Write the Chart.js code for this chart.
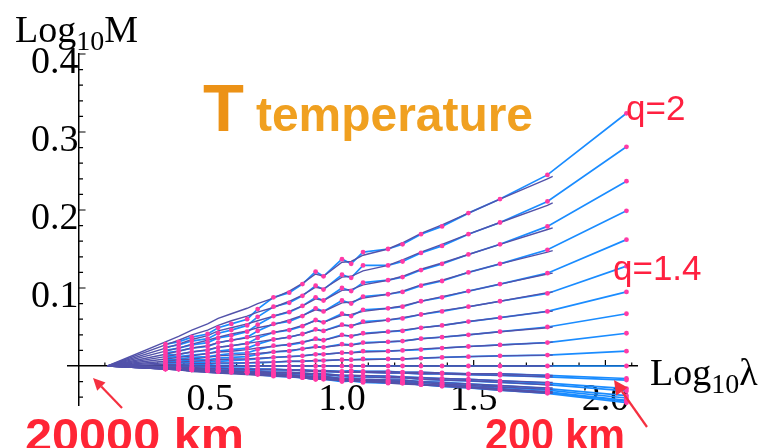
<!DOCTYPE html>
<html><head><meta charset="utf-8">
<script src="https://cdn.jsdelivr.net/npm/chart.js@4.4.1/dist/chart.umd.min.js"></script>
<style>
html,body{margin:0;padding:0;background:#fff;}
#wrap{position:relative;width:765px;height:448px;overflow:hidden;}
#c{position:absolute;left:0;top:0;}
#ov{position:absolute;left:0;top:0;pointer-events:none;}
</style></head><body>
<div id="wrap">
<canvas id="c" width="765" height="448"></canvas>
<svg id="ov" width="765" height="448" xmlns="http://www.w3.org/2000/svg">
  <text x="15" y="42" font-family="Liberation Serif, serif" font-size="38" fill="#000">Log<tspan font-size="28" dy="8">10</tspan><tspan dy="-8">M</tspan></text>
  <text x="650" y="385" font-family="Liberation Serif, serif" font-size="38" fill="#000">Log<tspan font-size="28" dy="8">10</tspan><tspan dy="-8">λ</tspan></text>
  <text x="203" y="131" font-family="Liberation Sans, Arial, sans-serif" font-weight="bold" font-size="67" fill="#ec9216">T</text>
  <text x="256" y="131" font-family="Liberation Sans, Arial, sans-serif" font-weight="bold" font-size="48" fill="#f0a020" textLength="277" lengthAdjust="spacingAndGlyphs">temperature</text>
  <text x="626" y="120" font-family="Liberation Sans, Arial, sans-serif" font-size="35" fill="#ff2040">q=2</text>
  <text x="613" y="280" font-family="Liberation Sans, Arial, sans-serif" font-size="35" fill="#ff2040">q=1.4</text>
  <text x="25" y="451" font-family="Liberation Sans, Arial, sans-serif" font-weight="bold" font-size="46" fill="#ff2535" textLength="219" lengthAdjust="spacingAndGlyphs">20000 km</text>
  <text x="485" y="450" font-family="Liberation Sans, Arial, sans-serif" font-weight="bold" font-size="44" fill="#ff2535" textLength="140" lengthAdjust="spacingAndGlyphs">200 km</text>
  <line x1="122" y1="408" x2="101.3" y2="386.6" stroke="#f53040" stroke-width="2.2"/>
  <polygon points="93,378 105.5,382.5 97.2,390.8" fill="#f53040"/>
  <line x1="647" y1="427" x2="622" y2="391.5" stroke="#f53040" stroke-width="2.2"/>
  <polygon points="614,380 627.7,387.5 616.2,395.5" fill="#f53040"/>
</svg>
</div>
<script>
// Log10 lambda of the measured points (blue curves, magenta dots)
const logLambda = [0.33,0.38,0.43,0.49,0.53,0.58,0.64,0.68,0.74,0.80,0.85,0.90,0.93,1.00,1.035,1.08,1.175,1.23,1.30,1.38,1.48,1.60,1.78,2.08];
// Log10 lambda of the fitted curves (purple)
const fitLogLambda = [0.11,0.33,0.38,0.43,0.49,0.53,0.58,0.64,0.68,0.74,0.80,0.85,0.90,0.93,1.00,1.035,1.08,1.175,1.23,1.30,1.38,1.48,1.60,1.78,1.80];
const qValues = [2.0,1.9,1.8,1.7,1.6,1.5,1.4,1.3,1.2,1.1,1.0,0.9,0.8,0.7,0.6,0.5,0.4,0.3,0.2,0.1];

// measured Log10 M, one array per q
const obsQ20 = [0.028,0.031,0.037,0.041,0.049,0.054,0.060,0.073,0.088,0.094,0.105,0.121,0.115,0.137,0.131,0.146,0.150,0.156,0.169,0.179,0.196,0.214,0.245,0.324];
const obsQ19 = [0.024,0.027,0.032,0.035,0.042,0.046,0.052,0.063,0.076,0.081,0.090,0.103,0.098,0.117,0.113,0.129,0.129,0.134,0.145,0.154,0.169,0.184,0.211,0.281];
const obsQ18 = [0.020,0.023,0.027,0.030,0.036,0.039,0.044,0.053,0.064,0.069,0.077,0.088,0.084,0.100,0.096,0.107,0.110,0.114,0.123,0.131,0.143,0.156,0.179,0.237];
const obsQ17 = [0.017,0.019,0.023,0.025,0.030,0.033,0.037,0.045,0.054,0.057,0.064,0.074,0.070,0.084,0.080,0.089,0.092,0.095,0.103,0.109,0.120,0.131,0.149,0.199];
const obsQ16 = [0.014,0.015,0.018,0.020,0.024,0.026,0.029,0.036,0.043,0.046,0.051,0.059,0.056,0.067,0.064,0.072,0.074,0.076,0.083,0.088,0.096,0.105,0.119,0.162];
const obsQ15 = [0.011,0.012,0.014,0.016,0.019,0.021,0.023,0.028,0.034,0.037,0.041,0.047,0.045,0.053,0.051,0.057,0.059,0.061,0.066,0.070,0.076,0.083,0.093,0.128];
const obsQ14 = [0.008,0.009,0.011,0.012,0.014,0.016,0.017,0.021,0.026,0.027,0.030,0.035,0.033,0.040,0.038,0.042,0.044,0.045,0.049,0.052,0.057,0.062,0.070,0.095];
const obsQ13 = [0.006,0.006,0.008,0.008,0.010,0.011,0.012,0.015,0.018,0.019,0.022,0.025,0.024,0.028,0.027,0.030,0.031,0.032,0.035,0.037,0.040,0.044,0.050,0.067];
const obsQ12 = [0.004,0.004,0.005,0.005,0.006,0.007,0.008,0.009,0.011,0.012,0.013,0.015,0.015,0.017,0.017,0.019,0.019,0.020,0.021,0.023,0.025,0.027,0.030,0.042];
const obsQ11 = [0.002,0.002,0.002,0.002,0.003,0.003,0.004,0.004,0.005,0.006,0.006,0.007,0.007,0.008,0.008,0.009,0.009,0.009,0.010,0.011,0.012,0.013,0.014,0.019];
const obsQ10 = [0,0,0,0,0,0,0,0,0,0,0,0,0,0,0,0,0,0,0,0,0,0,0,0];
const obsQ09 = [-0.001,-0.002,-0.002,-0.002,-0.002,-0.003,-0.003,-0.004,-0.004,-0.005,-0.005,-0.006,-0.006,-0.007,-0.006,-0.007,-0.007,-0.008,-0.008,-0.009,-0.010,-0.010,-0.012,-0.016];
const obsQ08 = [-0.002,-0.003,-0.003,-0.004,-0.004,-0.005,-0.005,-0.006,-0.008,-0.008,-0.009,-0.011,-0.010,-0.012,-0.012,-0.013,-0.013,-0.014,-0.015,-0.016,-0.017,-0.019,-0.022,-0.029];
const obsQ07 = [-0.003,-0.004,-0.004,-0.005,-0.006,-0.006,-0.007,-0.009,-0.010,-0.011,-0.012,-0.014,-0.013,-0.016,-0.015,-0.017,-0.018,-0.018,-0.020,-0.021,-0.023,-0.025,-0.029,-0.038];
const obsQ06 = [-0.004,-0.004,-0.005,-0.006,-0.007,-0.007,-0.008,-0.010,-0.012,-0.013,-0.014,-0.016,-0.016,-0.019,-0.018,-0.020,-0.020,-0.021,-0.023,-0.024,-0.027,-0.029,-0.033,-0.044];
const obsQ05 = [-0.004,-0.004,-0.005,-0.006,-0.007,-0.008,-0.009,-0.011,-0.013,-0.014,-0.015,-0.017,-0.017,-0.020,-0.019,-0.021,-0.022,-0.022,-0.024,-0.026,-0.028,-0.031,-0.035,-0.047];
const obsQ04 = [-0.004,-0.004,-0.005,-0.006,-0.007,-0.008,-0.008,-0.010,-0.012,-0.013,-0.015,-0.017,-0.016,-0.019,-0.018,-0.020,-0.021,-0.022,-0.024,-0.025,-0.027,-0.030,-0.034,-0.045];
const obsQ03 = [-0.004,-0.004,-0.005,-0.005,-0.006,-0.007,-0.008,-0.009,-0.011,-0.012,-0.013,-0.015,-0.014,-0.017,-0.016,-0.018,-0.019,-0.020,-0.021,-0.022,-0.025,-0.027,-0.031,-0.041];
const obsQ02 = [-0.003,-0.003,-0.004,-0.004,-0.005,-0.005,-0.006,-0.007,-0.009,-0.009,-0.010,-0.012,-0.011,-0.013,-0.013,-0.014,-0.015,-0.015,-0.017,-0.018,-0.019,-0.021,-0.024,-0.032];
const obsQ01 = [-0.002,-0.002,-0.002,-0.002,-0.003,-0.003,-0.003,-0.004,-0.005,-0.005,-0.006,-0.007,-0.007,-0.008,-0.007,-0.008,-0.009,-0.009,-0.010,-0.010,-0.011,-0.012,-0.014,-0.018];

// fitted Log10 M, one array per q
const fitQ20 = [0,0.031,0.038,0.046,0.054,0.061,0.067,0.074,0.080,0.087,0.096,0.106,0.118,0.115,0.133,0.134,0.142,0.150,0.158,0.170,0.181,0.196,0.214,0.240,0.243];
const fitQ19 = [0,0.027,0.033,0.040,0.046,0.052,0.058,0.064,0.069,0.075,0.083,0.091,0.101,0.099,0.114,0.115,0.122,0.129,0.136,0.146,0.156,0.169,0.184,0.206,0.209];
const fitQ18 = [0,0.023,0.028,0.034,0.039,0.045,0.049,0.054,0.058,0.064,0.070,0.077,0.086,0.084,0.097,0.098,0.104,0.110,0.115,0.124,0.132,0.143,0.156,0.175,0.177];
const fitQ17 = [0,0.019,0.023,0.028,0.033,0.037,0.041,0.045,0.049,0.053,0.059,0.065,0.072,0.070,0.081,0.082,0.087,0.092,0.096,0.104,0.110,0.120,0.131,0.146,0.148];
const fitQ16 = [0,0.015,0.019,0.023,0.026,0.030,0.033,0.036,0.039,0.043,0.047,0.052,0.058,0.056,0.065,0.066,0.070,0.074,0.077,0.083,0.089,0.096,0.105,0.118,0.119];
const fitQ15 = [0,0.012,0.015,0.018,0.021,0.024,0.026,0.029,0.031,0.034,0.037,0.041,0.046,0.045,0.052,0.052,0.055,0.059,0.062,0.066,0.071,0.076,0.083,0.094,0.095];
const fitQ14 = [0,0.009,0.011,0.013,0.016,0.018,0.019,0.021,0.023,0.025,0.028,0.031,0.034,0.033,0.039,0.039,0.041,0.044,0.046,0.049,0.052,0.057,0.062,0.070,0.070];
const fitQ13 = [0,0.006,0.008,0.009,0.011,0.013,0.014,0.015,0.016,0.018,0.020,0.022,0.024,0.024,0.027,0.027,0.029,0.031,0.032,0.035,0.037,0.040,0.044,0.049,0.050];
const fitQ12 = [0,0.004,0.005,0.006,0.007,0.008,0.009,0.009,0.010,0.011,0.012,0.013,0.015,0.015,0.017,0.017,0.018,0.019,0.020,0.022,0.023,0.025,0.027,0.030,0.031];
const fitQ11 = [0,0.002,0.002,0.003,0.003,0.004,0.004,0.004,0.005,0.005,0.006,0.006,0.007,0.007,0.008,0.008,0.008,0.009,0.009,0.010,0.011,0.012,0.013,0.014,0.014];
const fitQ10 = [0,0,0,0,0,0,0,0,0,0,0,0,0,0,0,0,0,0,0,0,0,0,0,0,0];
const fitQ09 = [0,-0.002,-0.002,-0.002,-0.003,-0.003,-0.003,-0.004,-0.004,-0.004,-0.005,-0.005,-0.006,-0.006,-0.007,-0.007,-0.007,-0.007,-0.008,-0.008,-0.009,-0.010,-0.010,-0.012,-0.012];
const fitQ08 = [0,-0.003,-0.003,-0.004,-0.005,-0.005,-0.006,-0.007,-0.007,-0.008,-0.008,-0.009,-0.010,-0.010,-0.012,-0.012,-0.012,-0.013,-0.014,-0.015,-0.016,-0.017,-0.019,-0.021,-0.021];
const fitQ07 = [0,-0.004,-0.004,-0.005,-0.006,-0.007,-0.008,-0.009,-0.009,-0.010,-0.011,-0.012,-0.014,-0.013,-0.016,-0.016,-0.017,-0.018,-0.018,-0.020,-0.021,-0.023,-0.025,-0.028,-0.028];
const fitQ06 = [0,-0.004,-0.005,-0.006,-0.007,-0.008,-0.009,-0.010,-0.011,-0.012,-0.013,-0.014,-0.016,-0.016,-0.018,-0.018,-0.019,-0.020,-0.021,-0.023,-0.025,-0.027,-0.029,-0.033,-0.033];
const fitQ05 = [0,-0.004,-0.005,-0.007,-0.008,-0.009,-0.010,-0.011,-0.012,-0.013,-0.014,-0.015,-0.017,-0.017,-0.019,-0.019,-0.020,-0.022,-0.023,-0.024,-0.026,-0.028,-0.031,-0.035,-0.035];
const fitQ04 = [0,-0.004,-0.005,-0.006,-0.008,-0.009,-0.009,-0.010,-0.011,-0.012,-0.013,-0.015,-0.017,-0.016,-0.019,-0.019,-0.020,-0.021,-0.022,-0.024,-0.025,-0.027,-0.030,-0.034,-0.034];
const fitQ03 = [0,-0.004,-0.005,-0.006,-0.007,-0.008,-0.008,-0.009,-0.010,-0.011,-0.012,-0.013,-0.015,-0.014,-0.017,-0.017,-0.018,-0.019,-0.020,-0.021,-0.023,-0.025,-0.027,-0.030,-0.030];
const fitQ02 = [0,-0.003,-0.004,-0.005,-0.005,-0.006,-0.007,-0.007,-0.008,-0.009,-0.009,-0.010,-0.012,-0.011,-0.013,-0.013,-0.014,-0.015,-0.015,-0.017,-0.018,-0.019,-0.021,-0.024,-0.024];
const fitQ01 = [0,-0.002,-0.002,-0.003,-0.003,-0.003,-0.004,-0.004,-0.005,-0.005,-0.005,-0.006,-0.007,-0.007,-0.008,-0.008,-0.008,-0.009,-0.009,-0.010,-0.010,-0.011,-0.012,-0.014,-0.014];

const observed = [obsQ20,obsQ19,obsQ18,obsQ17,obsQ16,obsQ15,obsQ14,obsQ13,obsQ12,obsQ11,obsQ10,obsQ09,obsQ08,obsQ07,obsQ06,obsQ05,obsQ04,obsQ03,obsQ02,obsQ01];
const fitted = [fitQ20,fitQ19,fitQ18,fitQ17,fitQ16,fitQ15,fitQ14,fitQ13,fitQ12,fitQ11,fitQ10,fitQ09,fitQ08,fitQ07,fitQ06,fitQ05,fitQ04,fitQ03,fitQ02,fitQ01];

const xTickLabels = ['0.5','1.0','1.5','2.0'];
const yTickLabels = ['0.1','0.2','0.3','0.4'];

const BLUE = '#1a8cff', PURPLE = '#5252aa', DOT = '#ff3aa6';

const toPts = (xs, ys) => xs.map((x, i) => ({x: x, y: ys[i]}));
const datasets = [];
observed.forEach((arr, k) => {
  datasets.push({label: 'dots q=' + qValues[k], data: toPts(logLambda, arr), showLine: false,
    pointRadius: 2.4, pointBackgroundColor: DOT, pointBorderWidth: 0, order: 0});
});
fitted.forEach((arr, k) => {
  datasets.push({label: 'fit q=' + qValues[k], data: toPts(fitLogLambda, arr), showLine: true,
    borderColor: PURPLE, borderWidth: 1.4, pointRadius: 0, tension: 0, order: 1});
});
observed.forEach((arr, k) => {
  datasets.push({label: 'obs q=' + qValues[k], data: toPts(logLambda, arr), showLine: true,
    borderColor: BLUE, borderWidth: 1.7, pointRadius: 0, tension: 0, order: 2});
});

const axisTicks = {
  id: 'axisTicks',
  beforeDatasetsDraw(chart) {
    const {ctx, scales: {x, y}} = chart;
    const y0 = y.getPixelForValue(0), x0 = x.getPixelForValue(0);
    ctx.save();
    ctx.strokeStyle = '#000';
    ctx.lineWidth = 1.2;
    ctx.beginPath();
    for (let i = 1; i <= 21; i++) {
      const px = x.getPixelForValue(i / 10);
      const len = (i % 5 === 0) ? 6 : 3.5;
      ctx.moveTo(px, y0); ctx.lineTo(px, y0 - len);
    }
    for (let i = -2; i <= 20; i++) {
      if (i === 0) continue;
      const py = y.getPixelForValue(i * 0.02);
      const len = (i % 5 === 0) ? 7 : 4.5;
      ctx.moveTo(x0, py); ctx.lineTo(x0 + len, py);
    }
    ctx.stroke();
    ctx.restore();
  }
};

const labelFor = (value, list) => {
  const s = (Math.round(value * 10) / 10).toFixed(1);
  return (Math.abs(value * 10 - Math.round(value * 10)) < 1e-6 && list.includes(s)) ? s : '';
};

new Chart(document.getElementById('c'), {
  type: 'scatter',
  data: {datasets},
  options: {
    responsive: false,
    animation: false,
    devicePixelRatio: 1,
    layout: {padding: {left: 68, right: 128, top: 54, bottom: 43}},
    plugins: {legend: {display: false}, tooltip: {enabled: false}},
    scales: {
      x: {
        type: 'linear', min: -0.04, max: 2.12, position: {y: 0},
        grid: {drawOnChartArea: false, drawTicks: false},
        border: {display: true, color: '#000', width: 1.5},
        ticks: {stepSize: 0.1, autoSkip: false, maxRotation: 0, padding: 11, color: '#000',
          font: {family: 'Liberation Serif', size: 38},
          callback: (v) => labelFor(v, xTickLabels)}
      },
      y: {
        type: 'linear', min: -0.05, max: 0.4, position: {x: 0},
        grid: {drawOnChartArea: false, drawTicks: false},
        border: {display: true, color: '#000', width: 1.5},
        ticks: {stepSize: 0.1, autoSkip: false, padding: 5, labelOffset: 9, color: '#000',
          font: {family: 'Liberation Serif', size: 38},
          callback: (v) => labelFor(v, yTickLabels)}
      }
    }
  },
  plugins: [axisTicks]
});
</script>
</body></html>
